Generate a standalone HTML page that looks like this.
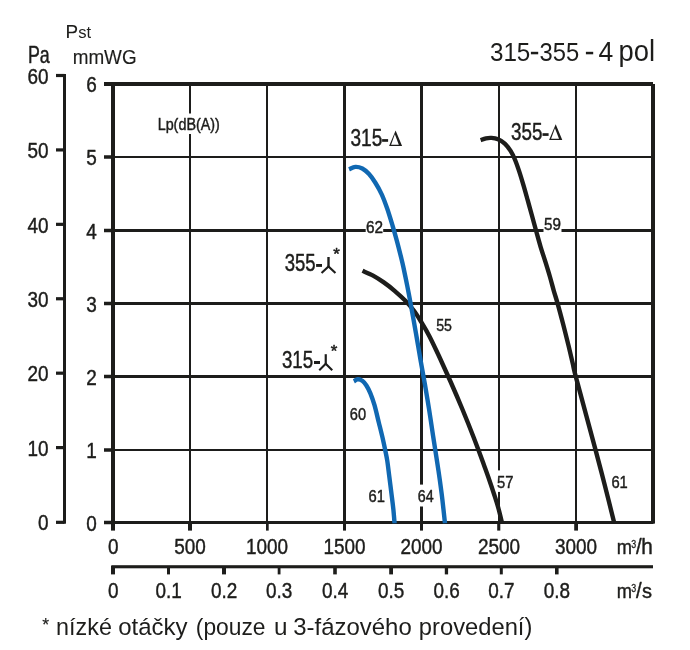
<!DOCTYPE html>
<html><head><meta charset="utf-8"><title>chart</title>
<style>
html,body{margin:0;padding:0;background:#fff;}
body{width:690px;height:650px;overflow:hidden;font-family:"Liberation Sans",sans-serif;}
svg{display:block;will-change:transform;}
text{white-space:pre;}
</style></head><body>
<svg width="690" height="650" viewBox="0 0 690 650">
<rect width="690" height="650" fill="#fff"/>
<rect x="189.00" y="84.00" width="2.00" height="438.00" fill="#1d1d1b"/>
<rect x="266.00" y="84.00" width="2.00" height="438.00" fill="#1d1d1b"/>
<rect x="343.00" y="84.00" width="3.00" height="438.00" fill="#1d1d1b"/>
<rect x="420.00" y="84.00" width="3.00" height="438.00" fill="#1d1d1b"/>
<rect x="498.00" y="84.00" width="2.00" height="438.00" fill="#1d1d1b"/>
<rect x="575.00" y="84.00" width="2.00" height="438.00" fill="#1d1d1b"/>
<rect x="113.00" y="156.00" width="540.00" height="2.00" fill="#1d1d1b"/>
<rect x="113.00" y="229.00" width="540.00" height="3.00" fill="#1d1d1b"/>
<rect x="113.00" y="302.00" width="540.00" height="3.00" fill="#1d1d1b"/>
<rect x="113.00" y="375.00" width="540.00" height="3.00" fill="#1d1d1b"/>
<rect x="113.00" y="449.00" width="540.00" height="2.00" fill="#1d1d1b"/>
<rect x="157.00" y="113.50" width="64.00" height="20.50" fill="#fff"/>
<rect x="365.70" y="222.00" width="17.50" height="16.00" fill="#fff"/>
<rect x="543.50" y="220.00" width="18.00" height="14.00" fill="#fff"/>
<rect x="417.00" y="484.60" width="18.00" height="21.90" fill="#fff"/>
<rect x="496.50" y="470.40" width="17.00" height="21.50" fill="#fff"/>
<rect x="104.00" y="82.00" width="549.00" height="4.00" fill="#1d1d1b"/>
<rect x="651.00" y="84.00" width="4.00" height="439.60" fill="#1d1d1b"/>
<rect x="104.00" y="521.00" width="549.50" height="3.00" fill="#1d1d1b"/>
<rect x="111.00" y="82.00" width="4.00" height="448.60" fill="#1d1d1b"/>
<rect x="104.00" y="520.75" width="9.00" height="3.50" fill="#1d1d1b"/>
<rect x="104.00" y="448.25" width="9.00" height="3.50" fill="#1d1d1b"/>
<rect x="104.00" y="374.75" width="9.00" height="3.50" fill="#1d1d1b"/>
<rect x="104.00" y="301.75" width="9.00" height="3.50" fill="#1d1d1b"/>
<rect x="104.00" y="228.75" width="9.00" height="3.50" fill="#1d1d1b"/>
<rect x="104.00" y="155.25" width="9.00" height="3.50" fill="#1d1d1b"/>
<rect x="104.00" y="82.25" width="9.00" height="3.50" fill="#1d1d1b"/>
<rect x="188.00" y="522.00" width="4.00" height="8.60" fill="#1d1d1b"/>
<rect x="266.00" y="522.00" width="2.70" height="8.60" fill="#1d1d1b"/>
<rect x="343.00" y="522.00" width="3.00" height="8.60" fill="#1d1d1b"/>
<rect x="420.00" y="522.00" width="3.00" height="8.60" fill="#1d1d1b"/>
<rect x="497.20" y="522.00" width="3.10" height="8.60" fill="#1d1d1b"/>
<rect x="574.20" y="522.00" width="3.80" height="8.60" fill="#1d1d1b"/>
<rect x="63.00" y="74.00" width="3.00" height="449.70" fill="#1d1d1b"/>
<rect x="56.00" y="520.72" width="8.50" height="3.20" fill="#1d1d1b"/>
<rect x="56.00" y="446.00" width="8.50" height="3.20" fill="#1d1d1b"/>
<rect x="56.00" y="371.58" width="8.50" height="3.20" fill="#1d1d1b"/>
<rect x="56.00" y="297.16" width="8.50" height="3.20" fill="#1d1d1b"/>
<rect x="56.00" y="222.74" width="8.50" height="3.20" fill="#1d1d1b"/>
<rect x="56.00" y="148.32" width="8.50" height="3.20" fill="#1d1d1b"/>
<rect x="56.00" y="73.90" width="8.50" height="3.20" fill="#1d1d1b"/>
<clipPath id="cp"><rect x="100" y="80" width="560" height="443.6"/></clipPath><g clip-path="url(#cp)">
<path d="M480.60,140.10 C481.50,139.80 484.18,138.67 486.00,138.30 C487.82,137.93 489.50,137.73 491.50,137.90 C493.50,138.07 495.78,138.35 498.00,139.30 C500.22,140.25 502.70,141.67 504.80,143.60 C506.90,145.53 508.92,148.25 510.60,150.90 C512.28,153.55 513.47,156.08 514.90,159.50 C516.33,162.92 517.77,167.08 519.20,171.40 C520.63,175.72 522.08,180.60 523.50,185.40 C524.92,190.20 526.32,195.27 527.70,200.20 C529.08,205.13 530.37,209.78 531.80,215.00 C533.23,220.22 534.83,226.20 536.30,231.50 C537.77,236.80 539.07,241.68 540.60,246.80 C542.13,251.92 543.93,257.17 545.50,262.20 C547.07,267.23 548.62,272.23 550.00,277.00 C551.38,281.77 552.52,286.33 553.80,290.80 C555.08,295.27 556.15,298.27 557.70,303.80 C559.25,309.33 561.30,317.05 563.10,324.00 C564.90,330.95 566.88,338.87 568.50,345.50 C570.12,352.13 571.48,358.23 572.80,363.80 C574.12,369.37 572.63,364.63 576.40,378.90 C580.17,393.17 590.70,431.80 595.40,449.40 C600.10,467.00 601.43,472.13 604.60,484.50 C607.77,496.87 612.77,517.08 614.40,523.60" fill="none" stroke="#1d1d1b" stroke-width="4.4" stroke-linecap="butt" stroke-linejoin="round"/>
<path d="M362.50,270.80 C364.27,271.60 369.55,273.67 373.10,275.60 C376.65,277.53 380.22,279.87 383.80,282.40 C387.38,284.93 391.00,287.73 394.60,290.80 C398.20,293.87 402.17,297.47 405.40,300.80 C408.63,304.13 411.32,307.20 414.00,310.80 C416.68,314.40 418.93,318.17 421.50,322.40 C424.07,326.63 426.65,330.93 429.40,336.20 C432.15,341.47 435.50,348.70 438.00,354.00 C440.50,359.30 442.28,363.33 444.40,368.00 C446.52,372.67 448.63,377.33 450.70,382.00 C452.77,386.67 454.80,391.33 456.80,396.00 C458.80,400.67 460.77,405.33 462.70,410.00 C464.63,414.67 466.53,419.33 468.40,424.00 C470.27,428.67 472.10,433.33 473.90,438.00 C475.70,442.67 477.47,447.33 479.20,452.00 C480.93,456.67 482.62,461.33 484.30,466.00 C485.98,470.67 487.68,475.33 489.30,480.00 C490.92,484.67 492.52,489.42 494.00,494.00 C495.48,498.58 496.83,502.57 498.20,507.50 C499.57,512.43 501.53,520.92 502.20,523.60" fill="none" stroke="#1d1d1b" stroke-width="4.4" stroke-linecap="butt" stroke-linejoin="round"/>
<path d="M349.00,169.30 C350.07,168.90 353.18,167.03 355.40,166.90 C357.62,166.77 360.07,167.35 362.30,168.50 C364.53,169.65 366.65,171.47 368.80,173.80 C370.95,176.13 373.05,179.08 375.20,182.50 C377.35,185.92 379.72,190.00 381.70,194.30 C383.68,198.60 385.30,203.10 387.10,208.30 C388.90,213.50 390.88,220.12 392.50,225.50 C394.12,230.88 395.35,235.22 396.80,240.60 C398.25,245.98 400.10,253.37 401.20,257.80 C402.30,262.23 402.37,262.40 403.40,267.20 C404.43,272.00 406.22,280.67 407.40,286.60 C408.58,292.53 409.43,297.05 410.50,302.80 C411.57,308.55 412.68,314.82 413.80,321.10 C414.92,327.38 416.08,334.05 417.20,340.50 C418.32,346.95 419.23,352.60 420.50,359.80 C421.77,367.00 423.37,375.42 424.80,383.70 C426.23,391.98 427.73,400.88 429.10,409.50 C430.47,418.12 431.73,427.13 433.00,435.40 C434.27,443.67 435.60,451.92 436.70,459.10 C437.80,466.28 438.67,471.87 439.60,478.50 C440.53,485.13 441.40,491.38 442.30,498.90 C443.20,506.42 444.55,519.48 445.00,523.60" fill="none" stroke="#1068b2" stroke-width="4.4" stroke-linecap="butt" stroke-linejoin="round"/>
<path d="M353.80,381.30 C354.47,380.97 356.33,379.35 357.80,379.30 C359.27,379.25 361.17,379.97 362.60,381.00 C364.03,382.03 365.10,383.45 366.40,385.50 C367.70,387.55 369.05,390.02 370.40,393.30 C371.75,396.58 373.10,400.33 374.50,405.20 C375.90,410.07 377.38,416.75 378.80,422.50 C380.22,428.25 381.87,434.78 383.00,439.70 C384.13,444.62 384.88,448.45 385.60,452.00 C386.32,455.55 386.68,456.92 387.30,461.00 C387.92,465.08 388.60,470.98 389.30,476.50 C390.00,482.02 390.83,488.73 391.50,494.10 C392.17,499.47 392.78,503.78 393.30,508.70 C393.82,513.62 394.38,521.12 394.60,523.60" fill="none" stroke="#1068b2" stroke-width="4.4" stroke-linecap="butt" stroke-linejoin="round"/>
</g>
<rect x="111.30" y="565.20" width="541.70" height="3.10" fill="#1d1d1b"/>
<rect x="111.00" y="566.00" width="4.00" height="8.40" fill="#1d1d1b"/>
<rect x="167.00" y="566.00" width="3.00" height="8.40" fill="#1d1d1b"/>
<rect x="222.00" y="566.00" width="4.00" height="8.40" fill="#1d1d1b"/>
<rect x="277.70" y="566.00" width="2.80" height="8.40" fill="#1d1d1b"/>
<rect x="333.20" y="566.00" width="3.60" height="8.40" fill="#1d1d1b"/>
<rect x="389.20" y="566.00" width="3.80" height="8.40" fill="#1d1d1b"/>
<rect x="444.80" y="566.00" width="3.30" height="8.40" fill="#1d1d1b"/>
<rect x="499.80" y="566.00" width="3.00" height="8.40" fill="#1d1d1b"/>
<rect x="555.00" y="566.00" width="3.60" height="8.40" fill="#1d1d1b"/>
<text transform="translate(48.45,530.32) scale(0.8300,1)" text-anchor="end" font-family="Liberation Sans" font-size="22.8" fill="#1d1d1b" stroke="#1d1d1b" stroke-width="0.42" vector-effect="non-scaling-stroke" stroke-linejoin="round">0</text>
<text transform="translate(48.45,455.90) scale(0.8300,1)" text-anchor="end" font-family="Liberation Sans" font-size="22.8" fill="#1d1d1b" stroke="#1d1d1b" stroke-width="0.42" vector-effect="non-scaling-stroke" stroke-linejoin="round">10</text>
<text transform="translate(48.45,381.48) scale(0.8300,1)" text-anchor="end" font-family="Liberation Sans" font-size="22.8" fill="#1d1d1b" stroke="#1d1d1b" stroke-width="0.42" vector-effect="non-scaling-stroke" stroke-linejoin="round">20</text>
<text transform="translate(48.45,307.06) scale(0.8300,1)" text-anchor="end" font-family="Liberation Sans" font-size="22.8" fill="#1d1d1b" stroke="#1d1d1b" stroke-width="0.42" vector-effect="non-scaling-stroke" stroke-linejoin="round">30</text>
<text transform="translate(48.45,232.64) scale(0.8300,1)" text-anchor="end" font-family="Liberation Sans" font-size="22.8" fill="#1d1d1b" stroke="#1d1d1b" stroke-width="0.42" vector-effect="non-scaling-stroke" stroke-linejoin="round">40</text>
<text transform="translate(48.45,158.22) scale(0.8300,1)" text-anchor="end" font-family="Liberation Sans" font-size="22.8" fill="#1d1d1b" stroke="#1d1d1b" stroke-width="0.42" vector-effect="non-scaling-stroke" stroke-linejoin="round">50</text>
<text transform="translate(48.45,83.80) scale(0.8300,1)" text-anchor="end" font-family="Liberation Sans" font-size="22.8" fill="#1d1d1b" stroke="#1d1d1b" stroke-width="0.42" vector-effect="non-scaling-stroke" stroke-linejoin="round">60</text>
<text transform="translate(91.50,530.80) scale(0.8300,1)" text-anchor="middle" font-family="Liberation Sans" font-size="22.8" fill="#1d1d1b" stroke="#1d1d1b" stroke-width="0.42" vector-effect="non-scaling-stroke" stroke-linejoin="round">0</text>
<text transform="translate(91.50,458.30) scale(0.8300,1)" text-anchor="middle" font-family="Liberation Sans" font-size="22.8" fill="#1d1d1b" stroke="#1d1d1b" stroke-width="0.42" vector-effect="non-scaling-stroke" stroke-linejoin="round">1</text>
<text transform="translate(91.50,384.80) scale(0.8300,1)" text-anchor="middle" font-family="Liberation Sans" font-size="22.8" fill="#1d1d1b" stroke="#1d1d1b" stroke-width="0.42" vector-effect="non-scaling-stroke" stroke-linejoin="round">2</text>
<text transform="translate(91.50,311.80) scale(0.8300,1)" text-anchor="middle" font-family="Liberation Sans" font-size="22.8" fill="#1d1d1b" stroke="#1d1d1b" stroke-width="0.42" vector-effect="non-scaling-stroke" stroke-linejoin="round">3</text>
<text transform="translate(91.50,238.80) scale(0.8300,1)" text-anchor="middle" font-family="Liberation Sans" font-size="22.8" fill="#1d1d1b" stroke="#1d1d1b" stroke-width="0.42" vector-effect="non-scaling-stroke" stroke-linejoin="round">4</text>
<text transform="translate(91.50,165.30) scale(0.8300,1)" text-anchor="middle" font-family="Liberation Sans" font-size="22.8" fill="#1d1d1b" stroke="#1d1d1b" stroke-width="0.42" vector-effect="non-scaling-stroke" stroke-linejoin="round">5</text>
<text transform="translate(91.50,92.30) scale(0.8300,1)" text-anchor="middle" font-family="Liberation Sans" font-size="22.8" fill="#1d1d1b" stroke="#1d1d1b" stroke-width="0.42" vector-effect="non-scaling-stroke" stroke-linejoin="round">6</text>
<text transform="translate(113.20,554.00) scale(0.8300,1)" text-anchor="middle" font-family="Liberation Sans" font-size="22.8" fill="#1d1d1b" stroke="#1d1d1b" stroke-width="0.42" vector-effect="non-scaling-stroke" stroke-linejoin="round">0</text>
<text transform="translate(190.10,554.00) scale(0.8300,1)" text-anchor="middle" font-family="Liberation Sans" font-size="22.8" fill="#1d1d1b" stroke="#1d1d1b" stroke-width="0.42" vector-effect="non-scaling-stroke" stroke-linejoin="round">500</text>
<text transform="translate(267.10,554.00) scale(0.8300,1)" text-anchor="middle" font-family="Liberation Sans" font-size="22.8" fill="#1d1d1b" stroke="#1d1d1b" stroke-width="0.42" vector-effect="non-scaling-stroke" stroke-linejoin="round">1000</text>
<text transform="translate(344.60,554.00) scale(0.8300,1)" text-anchor="middle" font-family="Liberation Sans" font-size="22.8" fill="#1d1d1b" stroke="#1d1d1b" stroke-width="0.42" vector-effect="non-scaling-stroke" stroke-linejoin="round">1500</text>
<text transform="translate(421.60,554.00) scale(0.8300,1)" text-anchor="middle" font-family="Liberation Sans" font-size="22.8" fill="#1d1d1b" stroke="#1d1d1b" stroke-width="0.42" vector-effect="non-scaling-stroke" stroke-linejoin="round">2000</text>
<text transform="translate(499.10,554.00) scale(0.8300,1)" text-anchor="middle" font-family="Liberation Sans" font-size="22.8" fill="#1d1d1b" stroke="#1d1d1b" stroke-width="0.42" vector-effect="non-scaling-stroke" stroke-linejoin="round">2500</text>
<text transform="translate(576.10,554.00) scale(0.8300,1)" text-anchor="middle" font-family="Liberation Sans" font-size="22.8" fill="#1d1d1b" stroke="#1d1d1b" stroke-width="0.42" vector-effect="non-scaling-stroke" stroke-linejoin="round">3000</text>
<text transform="translate(113.20,598.00) scale(0.8300,1)" text-anchor="middle" font-family="Liberation Sans" font-size="22.8" fill="#1d1d1b" stroke="#1d1d1b" stroke-width="0.42" vector-effect="non-scaling-stroke" stroke-linejoin="round">0</text>
<text transform="translate(168.60,598.00) scale(0.8300,1)" text-anchor="middle" font-family="Liberation Sans" font-size="22.8" fill="#1d1d1b" stroke="#1d1d1b" stroke-width="0.42" vector-effect="non-scaling-stroke" stroke-linejoin="round">0.1</text>
<text transform="translate(224.10,598.00) scale(0.8300,1)" text-anchor="middle" font-family="Liberation Sans" font-size="22.8" fill="#1d1d1b" stroke="#1d1d1b" stroke-width="0.42" vector-effect="non-scaling-stroke" stroke-linejoin="round">0.2</text>
<text transform="translate(279.20,598.00) scale(0.8300,1)" text-anchor="middle" font-family="Liberation Sans" font-size="22.8" fill="#1d1d1b" stroke="#1d1d1b" stroke-width="0.42" vector-effect="non-scaling-stroke" stroke-linejoin="round">0.3</text>
<text transform="translate(335.10,598.00) scale(0.8300,1)" text-anchor="middle" font-family="Liberation Sans" font-size="22.8" fill="#1d1d1b" stroke="#1d1d1b" stroke-width="0.42" vector-effect="non-scaling-stroke" stroke-linejoin="round">0.4</text>
<text transform="translate(391.20,598.00) scale(0.8300,1)" text-anchor="middle" font-family="Liberation Sans" font-size="22.8" fill="#1d1d1b" stroke="#1d1d1b" stroke-width="0.42" vector-effect="non-scaling-stroke" stroke-linejoin="round">0.5</text>
<text transform="translate(446.55,598.00) scale(0.8300,1)" text-anchor="middle" font-family="Liberation Sans" font-size="22.8" fill="#1d1d1b" stroke="#1d1d1b" stroke-width="0.42" vector-effect="non-scaling-stroke" stroke-linejoin="round">0.6</text>
<text transform="translate(501.40,598.00) scale(0.8300,1)" text-anchor="middle" font-family="Liberation Sans" font-size="22.8" fill="#1d1d1b" stroke="#1d1d1b" stroke-width="0.42" vector-effect="non-scaling-stroke" stroke-linejoin="round">0.7</text>
<text transform="translate(556.90,598.00) scale(0.8300,1)" text-anchor="middle" font-family="Liberation Sans" font-size="22.8" fill="#1d1d1b" stroke="#1d1d1b" stroke-width="0.42" vector-effect="non-scaling-stroke" stroke-linejoin="round">0.8</text>
<text transform="translate(616.71,554.00) scale(0.8660,1)" font-family="Liberation Sans" font-size="21.13" fill="#1d1d1b" stroke="#1d1d1b" stroke-width="0.42" vector-effect="non-scaling-stroke" stroke-linejoin="round">m</text>
<text transform="translate(631.25,548.20) scale(0.7656,1)" font-family="Liberation Sans" font-size="11.55" fill="#1d1d1b" stroke="#1d1d1b" stroke-width="0.3" vector-effect="non-scaling-stroke" stroke-linejoin="round">3</text>
<text transform="translate(636.00,554.00) scale(0.9351,1)" font-family="Liberation Sans" font-size="21.77" fill="#1d1d1b" stroke="#1d1d1b" stroke-width="0.42" vector-effect="non-scaling-stroke" stroke-linejoin="round">/</text>
<text transform="translate(641.15,554.00) scale(0.9689,1)" font-family="Liberation Sans" font-size="21.38" fill="#1d1d1b" stroke="#1d1d1b" stroke-width="0.42" vector-effect="non-scaling-stroke" stroke-linejoin="round">h</text>
<text transform="translate(616.71,597.90) scale(0.8660,1)" font-family="Liberation Sans" font-size="21.13" fill="#1d1d1b" stroke="#1d1d1b" stroke-width="0.42" vector-effect="non-scaling-stroke" stroke-linejoin="round">m</text>
<text transform="translate(631.25,592.10) scale(0.7656,1)" font-family="Liberation Sans" font-size="11.55" fill="#1d1d1b" stroke="#1d1d1b" stroke-width="0.3" vector-effect="non-scaling-stroke" stroke-linejoin="round">3</text>
<text transform="translate(636.00,597.90) scale(0.9351,1)" font-family="Liberation Sans" font-size="21.77" fill="#1d1d1b" stroke="#1d1d1b" stroke-width="0.42" vector-effect="non-scaling-stroke" stroke-linejoin="round">/</text>
<text transform="translate(642.00,597.90) scale(0.9732,1)" font-family="Liberation Sans" font-size="20.55" fill="#1d1d1b" stroke="#1d1d1b" stroke-width="0.42" vector-effect="non-scaling-stroke" stroke-linejoin="round">s</text>
<text transform="translate(27.98,62.80) scale(0.7679,1)" font-family="Liberation Sans" font-size="23.19" fill="#1d1d1b" stroke="#1d1d1b" stroke-width="0.42" vector-effect="non-scaling-stroke" stroke-linejoin="round">Pa</text>
<text transform="translate(65.59,37.70) scale(1.0339,1)" font-family="Liberation Sans" font-size="18.26" fill="#1d1d1b" stroke="#1d1d1b" stroke-width="0.1" vector-effect="non-scaling-stroke" stroke-linejoin="round">P</text>
<text transform="translate(78.20,37.70) scale(0.9795,1)" font-family="Liberation Sans" font-size="16.97" fill="#1d1d1b">st</text>
<text transform="translate(72.67,64.20) scale(0.9247,1)" font-family="Liberation Sans" font-size="20.43" fill="#1d1d1b" stroke="#1d1d1b" stroke-width="0.15" vector-effect="non-scaling-stroke" stroke-linejoin="round">mmWG</text>
<text transform="translate(157.65,129.70) scale(0.8262,1)" font-family="Liberation Sans" font-size="17.39" fill="#1d1d1b" stroke="#1d1d1b" stroke-width="0.42" vector-effect="non-scaling-stroke" stroke-linejoin="round">Lp(dB(A))</text>
<text transform="translate(489.93,61.00) scale(0.9101,1)" font-family="Liberation Sans" font-size="26.62" fill="#1d1d1b">315</text>
<rect x="530.90" y="51.80" width="7.30" height="2.50" fill="#1d1d1b"/>
<text transform="translate(539.45,61.00) scale(0.8935,1)" font-family="Liberation Sans" font-size="26.62" fill="#1d1d1b">355</text>
<rect x="585.90" y="51.80" width="7.30" height="2.50" fill="#1d1d1b"/>
<text transform="translate(598.47,61.00) scale(0.9842,1)" font-family="Liberation Sans" font-size="26.96" fill="#1d1d1b">4</text>
<text transform="translate(618.42,61.00) scale(0.9510,1)" font-family="Liberation Sans" font-size="28.83" fill="#1d1d1b">pol</text>
<text transform="translate(42.23,630.61) scale(0.9573,1)" font-family="Liberation Sans" font-size="18.57" fill="#1d1d1b" stroke="#1d1d1b" stroke-width="0.15" vector-effect="non-scaling-stroke" stroke-linejoin="round">*</text>
<text transform="translate(56.08,635.20) scale(0.9948,1)" font-family="Liberation Sans" font-size="23.5" fill="#1d1d1b">nízké</text>
<text transform="translate(118.24,635.20) scale(1.0213,1)" font-family="Liberation Sans" font-size="23.5" fill="#1d1d1b">otáčky</text>
<text transform="translate(195.83,635.20) scale(0.9708,1)" font-family="Liberation Sans" font-size="23.5" fill="#1d1d1b">(pouze</text>
<text transform="translate(274.02,635.20) scale(1.0313,1)" font-family="Liberation Sans" font-size="23.5" fill="#1d1d1b">u</text>
<text transform="translate(293.24,635.20) scale(1.0199,1)" font-family="Liberation Sans" font-size="23.5" fill="#1d1d1b">3-fázového</text>
<text transform="translate(418.86,635.20) scale(1.0110,1)" font-family="Liberation Sans" font-size="23.5" fill="#1d1d1b">provedení)</text>
<text transform="translate(365.93,233.10) scale(0.9392,1)" font-family="Liberation Sans" font-size="16.34" fill="#1d1d1b" stroke="#1d1d1b" stroke-width="0.42" vector-effect="non-scaling-stroke" stroke-linejoin="round">62</text>
<text transform="translate(543.99,230.00) scale(0.9314,1)" font-family="Liberation Sans" font-size="16.34" fill="#1d1d1b" stroke="#1d1d1b" stroke-width="0.42" vector-effect="non-scaling-stroke" stroke-linejoin="round">59</text>
<text transform="translate(436.13,330.50) scale(0.8675,1)" font-family="Liberation Sans" font-size="16.34" fill="#1d1d1b" stroke="#1d1d1b" stroke-width="0.42" vector-effect="non-scaling-stroke" stroke-linejoin="round">55</text>
<text transform="translate(349.77,420.20) scale(0.8956,1)" font-family="Liberation Sans" font-size="16.34" fill="#1d1d1b" stroke="#1d1d1b" stroke-width="0.42" vector-effect="non-scaling-stroke" stroke-linejoin="round">60</text>
<text transform="translate(368.50,501.60) scale(0.9000,1)" text-anchor="start" font-family="Liberation Sans" font-size="16.4" fill="#1d1d1b" stroke="#1d1d1b" stroke-width="0.42" vector-effect="non-scaling-stroke" stroke-linejoin="round">61</text>
<text transform="translate(417.79,502.20) scale(0.8734,1)" font-family="Liberation Sans" font-size="16.34" fill="#1d1d1b" stroke="#1d1d1b" stroke-width="0.42" vector-effect="non-scaling-stroke" stroke-linejoin="round">64</text>
<text transform="translate(496.91,487.80) scale(0.9060,1)" font-family="Liberation Sans" font-size="16.34" fill="#1d1d1b" stroke="#1d1d1b" stroke-width="0.42" vector-effect="non-scaling-stroke" stroke-linejoin="round">57</text>
<text transform="translate(611.40,488.20) scale(0.9000,1)" text-anchor="start" font-family="Liberation Sans" font-size="16.4" fill="#1d1d1b" stroke="#1d1d1b" stroke-width="0.42" vector-effect="non-scaling-stroke" stroke-linejoin="round">61</text>
<text transform="translate(350.44,145.90) scale(0.8199,1)" font-family="Liberation Sans" font-size="23.24" fill="#1d1d1b" stroke="#1d1d1b" stroke-width="0.42" vector-effect="non-scaling-stroke" stroke-linejoin="round">315</text>
<rect x="382.10" y="139.10" width="6.00" height="2.70" fill="#1d1d1b"/>
<text transform="translate(511.05,140.10) scale(0.8090,1)" font-family="Liberation Sans" font-size="23.24" fill="#1d1d1b" stroke="#1d1d1b" stroke-width="0.42" vector-effect="non-scaling-stroke" stroke-linejoin="round">355</text>
<rect x="542.50" y="133.20" width="6.10" height="2.70" fill="#1d1d1b"/>
<text transform="translate(284.66,270.70) scale(0.7981,1)" font-family="Liberation Sans" font-size="23.24" fill="#1d1d1b" stroke="#1d1d1b" stroke-width="0.42" vector-effect="non-scaling-stroke" stroke-linejoin="round">355</text>
<rect x="316.10" y="264.00" width="5.90" height="2.90" fill="#1d1d1b"/>
<text transform="translate(281.95,368.00) scale(0.8036,1)" font-family="Liberation Sans" font-size="23.24" fill="#1d1d1b" stroke="#1d1d1b" stroke-width="0.42" vector-effect="non-scaling-stroke" stroke-linejoin="round">315</text>
<rect x="314.00" y="361.00" width="6.00" height="3.00" fill="#1d1d1b"/>
<path fill-rule="evenodd" fill="#1d1d1b" d="M395.60,130.40 L402.10,146.00 L389.10,146.00 Z M394.85,134.30 L398.80,144.85 L391.10,144.85 Z"/>
<path fill-rule="evenodd" fill="#1d1d1b" d="M555.70,124.30 L562.30,139.90 L549.10,139.90 Z M554.95,128.20 L559.00,138.75 L551.10,138.75 Z"/>
<path d="M328.5,257.0 L328.5,267.1" fill="none" stroke="#1d1d1b" stroke-width="2.4"/>
<path d="M321.55,273.1 L328.5,266.5 L335.45,273.1" fill="none" stroke="#1d1d1b" stroke-width="2.1" stroke-linecap="butt" stroke-linejoin="miter"/>
<path d="M325.75,354.2 L325.75,364.3" fill="none" stroke="#1d1d1b" stroke-width="2.2"/>
<path d="M319.25,370.3 L325.75,363.7 L332.25,370.3" fill="none" stroke="#1d1d1b" stroke-width="2.1" stroke-linecap="butt" stroke-linejoin="miter"/>
<text transform="translate(333.25,260.13) scale(1.0226,1)" font-family="Liberation Sans" font-size="16.57" fill="#1d1d1b" stroke="#1d1d1b" stroke-width="0.5" vector-effect="non-scaling-stroke" stroke-linejoin="round">*</text>
<text transform="translate(330.65,357.43) scale(1.0226,1)" font-family="Liberation Sans" font-size="16.57" fill="#1d1d1b" stroke="#1d1d1b" stroke-width="0.5" vector-effect="non-scaling-stroke" stroke-linejoin="round">*</text>
</svg>
</body></html>
